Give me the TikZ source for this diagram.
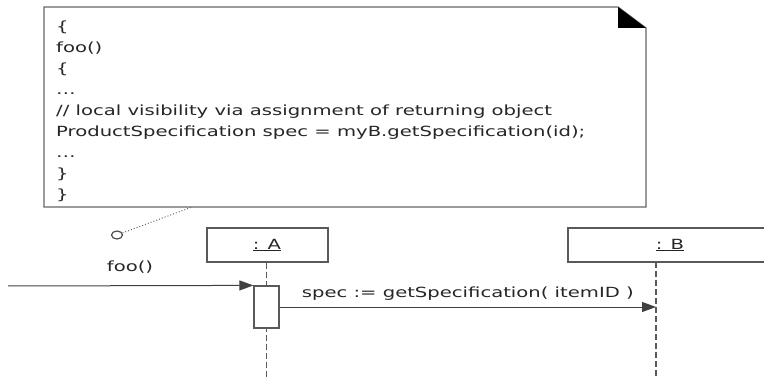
\documentclass[tikz,border=0pt]{standalone}
\usepackage{fontspec}
\setmainfont{DejaVu Sans}[FakeStretch=1.4]
\usetikzlibrary{arrows.meta,shapes.geometric}

\tikzset{
  txt/.style={draw=none, inner sep=0pt, text=black!85, font=\fontsize{14}{21}\selectfont},
  objbox/.style={draw=black!65, line width=1.2pt, minimum height=34pt, inner sep=0pt},
  actbox/.style={draw=black!65, line width=1.2pt, fill=white, minimum width=25pt, minimum height=42pt, inner sep=0pt},
  lifeline/.style={draw=black!65, line width=1.2pt, dash pattern=on 6pt off 3pt},
  msg/.style={draw=black!75, line width=1pt, -{Triangle[length=14pt,width=10pt]}},
}

\begin{document}
\begin{tikzpicture}[x=1pt,y=-1pt]

\useasboundingbox (0,0) rectangle (764,377);
\clip (0,0) rectangle (764,377);

% note with folded corner
\draw[draw=black!60, line width=1.2pt] (44,7) -- (618,7) -- (646,28) -- (646,207) -- (44,207) -- cycle;
\fill[black] (618,7) -- (646,28) -- (618,28) -- cycle;
\node[txt, anchor=north west, align=left] (code) at (56,21) {%
  \{\\ foo()\\ \{\\ \dots\\ // local visibility via assignment of returning object\\
  ProductSpecification spec = myB.getSpecification(id);\\ \dots\\ \}\\ \}};

% note link
\node[ellipse, draw=black!70, line width=1.2pt, minimum width=11pt, minimum height=8pt, inner sep=0pt] (start) at (117,235) {};
\coordinate (notept) at (192,207);
\draw[black!60, line width=1pt, dotted] (start) -- (notept);
\node[txt] (foo) at (130,267) {foo()};

% objects
\node[objbox, minimum width=121pt] (objA) at (267.5,245) {};
\node[txt] at (267,245) {\underline{: A}};
\node[objbox, minimum width=204pt] (objB) at (670,245) {};
\node[txt] at (670,245) {\underline{: B}};

% lifelines
\coordinate (endA) at (266.5,377);
\coordinate (topB) at (656,262);
\coordinate (endB) at (656,377);
\draw[lifeline] (objA.south -| endA) -- (endA);
\draw[lifeline] (topB) -- (endB);
\node[actbox] (act) at (266.5,307) {}; % activation

% messages
\coordinate (in) at (8,286);
\draw[msg] (in) -- (act.north west);
\draw[msg] (act.east) -- (act.east -| topB)
  node[txt, midway, above=6pt] (call) {spec := getSpecification( itemID )};

\end{tikzpicture}
\end{document}
